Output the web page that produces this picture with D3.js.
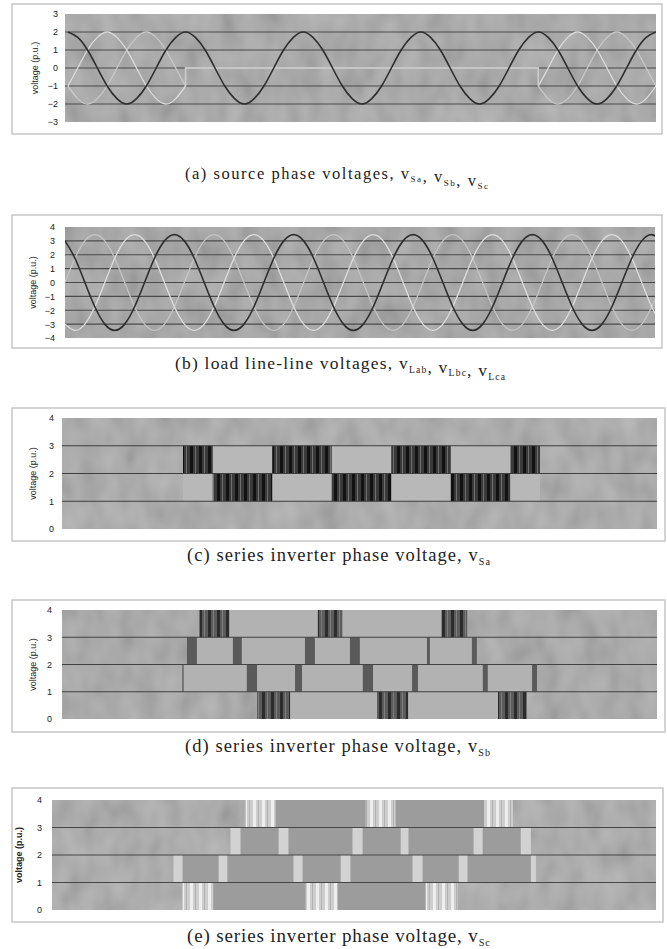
<!DOCTYPE html>
<html>
<head>
<meta charset="utf-8">
<script src="https://cdn.jsdelivr.net/npm/d3@7"></script>
<style>
  body { margin: 0; background: #fff; }
  svg { display: block; }
</style>
</head>
<body>
<svg id="fig" width="667" height="949"></svg>
<script>
// samples are read every 30 electrical degrees, 5 cycles shown (0..1800 deg)
const step = 30;

// (a) source phase voltages (p.u.)
const vSa = [
  2, 1.7, 1, 0, -1, -1.7, -2, -1.7, -1, 0, 1, 1.7,
  2, 1.7, 1, 0, -1, -1.7, -2, -1.7, -1, 0, 1, 1.7,
  2, 1.7, 1, 0, -1, -1.7, -2, -1.7, -1, 0, 1, 1.7,
  2, 1.7, 1, 0, -1, -1.7, -2, -1.7, -1, 0, 1, 1.7,
  2, 1.7, 1, 0, -1, -1.7, -2, -1.7, -1, 0, 1, 1.7,
  2];
// phases b and c before the sag (0..360) and after it (1440..1800)
const vSbPre  = [-1, 0, 1, 1.7, 2, 1.7, 1, 0, -1, -1.7, -2, -1.7, -1];
const vSbPost = [-1, 0, 1, 1.7, 2, 1.7, 1, 0, -1, -1.7, -2, -1.7, -1];
const vScPre  = [-1, -1.7, -2, -1.7, -1, 0, 1, 1.7, 2, 1.7, 1, 0, -1];
const vScPost = [-1, -1.7, -2, -1.7, -1, 0, 1, 1.7, 2, 1.7, 1, 0, -1];
const sagFrom = 360, sagTo = 1440, sagLevel = 0;

// (b) load line-line voltages (p.u.)
const vLab = [
  3, 1.75, 0, -1.75, -3, -3.45, -3, -1.75, 0, 1.75, 3, 3.45,
  3, 1.75, 0, -1.75, -3, -3.45, -3, -1.75, 0, 1.75, 3, 3.45,
  3, 1.75, 0, -1.75, -3, -3.45, -3, -1.75, 0, 1.75, 3, 3.45,
  3, 1.75, 0, -1.75, -3, -3.45, -3, -1.75, 0, 1.75, 3, 3.45,
  3, 1.75, 0, -1.75, -3, -3.45, -3, -1.75, 0, 1.75, 3, 3.45,
  3];
const vLbc = [
  0, 1.75, 3, 3.45, 3, 1.75, 0, -1.75, -3, -3.45, -3, -1.75,
  0, 1.75, 3, 3.45, 3, 1.75, 0, -1.75, -3, -3.45, -3, -1.75,
  0, 1.75, 3, 3.45, 3, 1.75, 0, -1.75, -3, -3.45, -3, -1.75,
  0, 1.75, 3, 3.45, 3, 1.75, 0, -1.75, -3, -3.45, -3, -1.75,
  0, 1.75, 3, 3.45, 3, 1.75, 0, -1.75, -3, -3.45, -3, -1.75,
  0];
const vLca = [
  -3, -3.45, -3, -1.75, 0, 1.75, 3, 3.45, 3, 1.75, 0, -1.75,
  -3, -3.45, -3, -1.75, 0, 1.75, 3, 3.45, 3, 1.75, 0, -1.75,
  -3, -3.45, -3, -1.75, 0, 1.75, 3, 3.45, 3, 1.75, 0, -1.75,
  -3, -3.45, -3, -1.75, 0, 1.75, 3, 3.45, 3, 1.75, 0, -1.75,
  -3, -3.45, -3, -1.75, 0, 1.75, 3, 3.45, 3, 1.75, 0, -1.75,
  -3];

// (c) series inverter voltage, switching bands (deg, lower level of band)
const cFrom = [360, 450, 630, 810, 990, 1170, 1350];
const cTo   = [450, 630, 810, 990, 1170, 1350, 1440];
const cLow  = [2, 1, 2, 1, 2, 1, 2];

// (d) dense switching blocks, narrow transition edges, band outlines
const dPwmFrom  = [410, 768, 1142, 584, 947, 1313];
const dPwmTo    = [500, 842, 1220, 684, 1041, 1400];
const dPwmLow   = [3, 3, 3, 0, 0, 0];
const dEdgeFrom = [372, 511, 729, 865, 1098, 1234, 358, 553, 699, 904, 1053, 1267, 1416];
const dEdgeTo   = [402, 538, 759, 895, 1107, 1249, 362, 584, 720, 935, 1071, 1282, 1431];
const dEdgeLow  = [2, 2, 2, 2, 2, 2, 1, 1, 1, 1, 1, 1, 1];
const dBoxFrom  = [584, 358, 372, 410];
const dBoxTo    = [1400, 1431, 1249, 1220];
const dBoxLow   = [0, 1, 2, 3];

// (e)
const ePwmFrom  = [574, 930, 1281, 387, 752, 1108];
const ePwmTo    = [663, 1019, 1367, 479, 847, 1203];
const ePwmLow   = [3, 3, 3, 0, 0, 0];
const eEdgeFrom = [529, 672, 891, 1034, 1250, 1390, 360, 494, 716, 856, 1069, 1206, 1420];
const eEdgeTo   = [559, 701, 921, 1057, 1277, 1420, 387, 520, 743, 885, 1099, 1232, 1435];
const eEdgeLow  = [2, 2, 2, 2, 2, 2, 1, 1, 1, 1, 1, 1, 1];
const eBoxFrom  = [387, 360, 529, 574];
const eBoxTo    = [1203, 1435, 1420, 1367];
const eBoxLow   = [0, 1, 2, 3];

const ticksA = [-3, -2, -1, 0, 1, 2, 3];
const ticksB = [-4, -3, -2, -1, 0, 1, 2, 3, 4];
const ticksC = [0, 1, 2, 3, 4];

const svg = d3.select('#fig');
const defs = svg.append('defs');

// scanned paper grain
const grain = defs.append('filter').attr('id', 'grain')
  .attr('x', 0).attr('y', 0).attr('width', 1).attr('height', 1);
grain.append('feTurbulence').attr('type', 'fractalNoise')
  .attr('baseFrequency', '0.05 0.03').attr('numOctaves', 2).attr('seed', 5);
grain.append('feColorMatrix').attr('type', 'matrix')
  .attr('values', '1 0 0 0 0  1 0 0 0 0  1 0 0 0 0  0 0 0 0 0.2');

function stripes(id, base, dark, light) {
  const p = defs.append('pattern').attr('id', id)
    .attr('patternUnits', 'userSpaceOnUse').attr('width', 9).attr('height', 10);
  p.append('rect').attr('width', 9).attr('height', 10).attr('fill', base);
  p.append('rect').attr('x', 1).attr('width', 3).attr('height', 10).attr('fill', dark);
  p.append('rect').attr('x', 6).attr('width', 1).attr('height', 10).attr('fill', light);
}
stripes('pwmC', '#3a3a3a', '#121212', '#707070');
stripes('pwmD', '#5c5c5c', '#2c2c2c', '#7e7e7e');
stripes('pwmE', '#cdcdcd', '#eeeeee', '#b2b2b2');

let nPanel = 0;
function setup(o) {
  const g = svg.append('g');
  const [fx0, fy0, fx1, fy1] = o.frame;
  const [px0, py0, px1, py1] = o.plot;
  g.append('rect').attr('x', fx0).attr('y', fy0)
    .attr('width', fx1 - fx0).attr('height', fy1 - fy0)
    .attr('fill', '#fff').attr('stroke', '#c6c6c6').attr('stroke-width', 1.5);

  const x = d3.scaleLinear().domain(o.xDomain).range([px0, px1]);
  const y = d3.scaleLinear().domain(o.yDomain).range([py1, py0]);

  g.append('rect').attr('x', px0).attr('y', py0)
    .attr('width', px1 - px0).attr('height', py1 - py0).attr('fill', o.bg);
  g.append('rect').attr('x', px0).attr('y', py0)
    .attr('width', px1 - px0).attr('height', py1 - py0)
    .attr('filter', 'url(#grain)');

  const cid = 'clip' + (nPanel++);
  defs.append('clipPath').attr('id', cid).append('rect')
    .attr('x', px0).attr('y', py0).attr('width', px1 - px0).attr('height', py1 - py0);
  const body = g.append('g').attr('clip-path', `url(#${cid})`);

  const ax = d3.axisLeft(y).tickValues(o.ticks).tickSize(0).tickPadding(o.pad)
    .tickFormat(d3.format('d'));
  g.append('g').attr('transform', `translate(${px0},0)`).call(ax)
    .call(s => s.select('.domain').remove())
    .call(s => s.selectAll('text')
      .attr('font-family', 'Arial, "Liberation Sans", sans-serif')
      .attr('font-size', 9).attr('fill', '#222'));

  g.append('text')
    .attr('transform', `translate(${o.titleX},${(py0 + py1) / 2}) rotate(-90)`)
    .attr('text-anchor', 'middle').attr('dy', '0.35em')
    .attr('font-family', 'Arial, "Liberation Sans", sans-serif')
    .attr('font-size', 9).attr('font-weight', o.bold ? 'bold' : 'normal')
    .attr('fill', '#222').text('voltage (p.u.)');

  // caption with subscripts
  const c = o.cap;
  const cap = g.append('text').attr('x', c.x0).attr('y', c.y)
    .attr('font-family', '"Liberation Serif", "Times New Roman", serif')
    .attr('font-size', c.size).attr('fill', '#222')
    .attr('textLength', c.x1 - c.x0).attr('lengthAdjust', 'spacing');
  c.parts.forEach(([t, sub]) => {
    cap.append('tspan')
      .attr('dy', sub ? c.size * 0.2 : 0)
      .attr('font-size', sub ? c.size * 0.55 : c.size)
      .text(t);
    if (sub) cap.append('tspan').attr('dy', -c.size * 0.2).text('');
  });

  return { g, body, x, y, grid: o.grid, plot: o.plot };
}

function gridlines(p, color) {
  p.body.selectAll(null).data(p.grid).join('line')
    .attr('x1', p.plot[0]).attr('x2', p.plot[2])
    .attr('y1', d => p.y(d)).attr('y2', d => p.y(d))
    .attr('stroke', color).attr('stroke-width', 1.1);
}

function wave(p, vals, start, color, w) {
  const line = d3.line()
    .x((d, i) => p.x(start + i * step))
    .y(d => p.y(d))
    .curve(d3.curveNatural);
  p.body.append('path').attr('d', line(vals))
    .attr('fill', 'none').attr('stroke', color).attr('stroke-width', w);
}

function bands(p, from, to, low, fill) {
  p.body.selectAll(null).data(from).join('rect')
    .attr('x', d => p.x(d))
    .attr('width', (d, i) => p.x(to[i]) - p.x(d))
    .attr('y', (d, i) => p.y(low[i] + 1))
    .attr('height', (d, i) => p.y(low[i]) - p.y(low[i] + 1))
    .attr('fill', fill);
}

// ---------- (a)
const pa = setup({
  frame: [12, 4, 662, 134], plot: [65, 14, 656, 122],
  xDomain: [-9, 1800], yDomain: [-3, 3], ticks: ticksA, grid: [-2, -1, 0, 1, 2],
  bg: '#a6a6a6', pad: 7, titleX: 35,
  cap: { x0: 185, x1: 488, y: 179, size: 16.5,
    parts: [['(a) source phase voltages, v', 0], ['Sa', 1], [', v', 0], ['Sb', 1], [', v', 0], ['Sc', 1]] }
});
gridlines(pa, '#4a4a4a');
const sagLine = d3.line().x(d => pa.x(d[0])).y(d => pa.y(d[1]));
[[vSbPre, vSbPost, '#dcdcdc'], [vScPre, vScPost, '#c9c9c9']].forEach(([pre, post, col]) => {
  wave(pa, pre, 0, col, 1.3);
  wave(pa, post, sagTo, col, 1.3);
  pa.body.append('path')
    .attr('d', sagLine([[sagFrom, pre[pre.length - 1]], [sagFrom, sagLevel],
                        [sagTo, sagLevel], [sagTo, post[0]]]))
    .attr('fill', 'none').attr('stroke', col).attr('stroke-width', 1.3);
});
wave(pa, vSa, 0, '#2e2e2e', 1.6);

// ---------- (b)
const pb = setup({
  frame: [12, 215, 662, 348], plot: [65, 227, 655, 338],
  xDomain: [0, 1780], yDomain: [-4, 4], ticks: ticksB, grid: [-3, -2, -1, 0, 1, 2, 3],
  bg: '#a3a3a3', pad: 10, titleX: 33,
  cap: { x0: 175, x1: 505, y: 369, size: 17.5,
    parts: [['(b) load line-line voltages, v', 0], ['Lab', 1], [', v', 0], ['Lbc', 1], [', v', 0], ['Lca', 1]] }
});
gridlines(pb, '#4a4a4a');
wave(pb, vLbc, 0, '#c4c4c4', 1.3);
wave(pb, vLca, 0, '#dedede', 1.3);
wave(pb, vLab, 0, '#2e2e2e', 1.6);

// ---------- (c)
const pc = setup({
  frame: [12, 408, 665, 541], plot: [62, 418, 657, 529],
  xDomain: [-6, 1794], yDomain: [0, 4], ticks: ticksC, grid: [1, 2, 3],
  bg: '#a8a8a8', pad: 8, titleX: 33,
  cap: { x0: 187, x1: 490, y: 561, size: 18.5,
    parts: [['(c) series inverter phase voltage, v', 0], ['Sa', 1]] }
});
// the idle band opposite each switching band shows lighter
bands(pc, cFrom, cTo, cLow.map(l => 3 - l), '#b8b8b8');
bands(pc, cFrom, cTo, cLow, 'url(#pwmC)');
gridlines(pc, '#3e3e3e');

// ---------- (d)
const pd = setup({
  frame: [12, 600, 665, 732], plot: [62, 610, 657, 719],
  xDomain: [-6, 1794], yDomain: [0, 4], ticks: ticksC, grid: [1, 2, 3],
  bg: '#a6a6a6', pad: 10, titleX: 33,
  cap: { x0: 185, x1: 490, y: 752, size: 18.5,
    parts: [['(d) series inverter phase voltage, v', 0], ['Sb', 1]] }
});
bands(pd, dBoxFrom, dBoxTo, dBoxLow, '#b2b2b2');
bands(pd, dPwmFrom, dPwmTo, dPwmLow, 'url(#pwmD)');
bands(pd, dEdgeFrom, dEdgeTo, dEdgeLow, '#5a5a5a');
gridlines(pd, '#424242');

// ---------- (e)
const pe = setup({
  frame: [12, 788, 663, 922], plot: [52, 800, 656, 910],
  xDomain: [0, 1791], yDomain: [0, 4], ticks: ticksC, grid: [1, 2, 3],
  bg: '#a9a9a9', pad: 10, titleX: 19, bold: true,
  cap: { x0: 187, x1: 490, y: 942, size: 19,
    parts: [['(e) series inverter phase voltage, v', 0], ['Sc', 1]] }
});
bands(pe, eBoxFrom, eBoxTo, eBoxLow, '#9c9c9c');
bands(pe, ePwmFrom, ePwmTo, ePwmLow, 'url(#pwmE)');
bands(pe, eEdgeFrom, eEdgeTo, eEdgeLow, '#d2d2d2');
gridlines(pe, '#464646');
</script>
</body>
</html>
